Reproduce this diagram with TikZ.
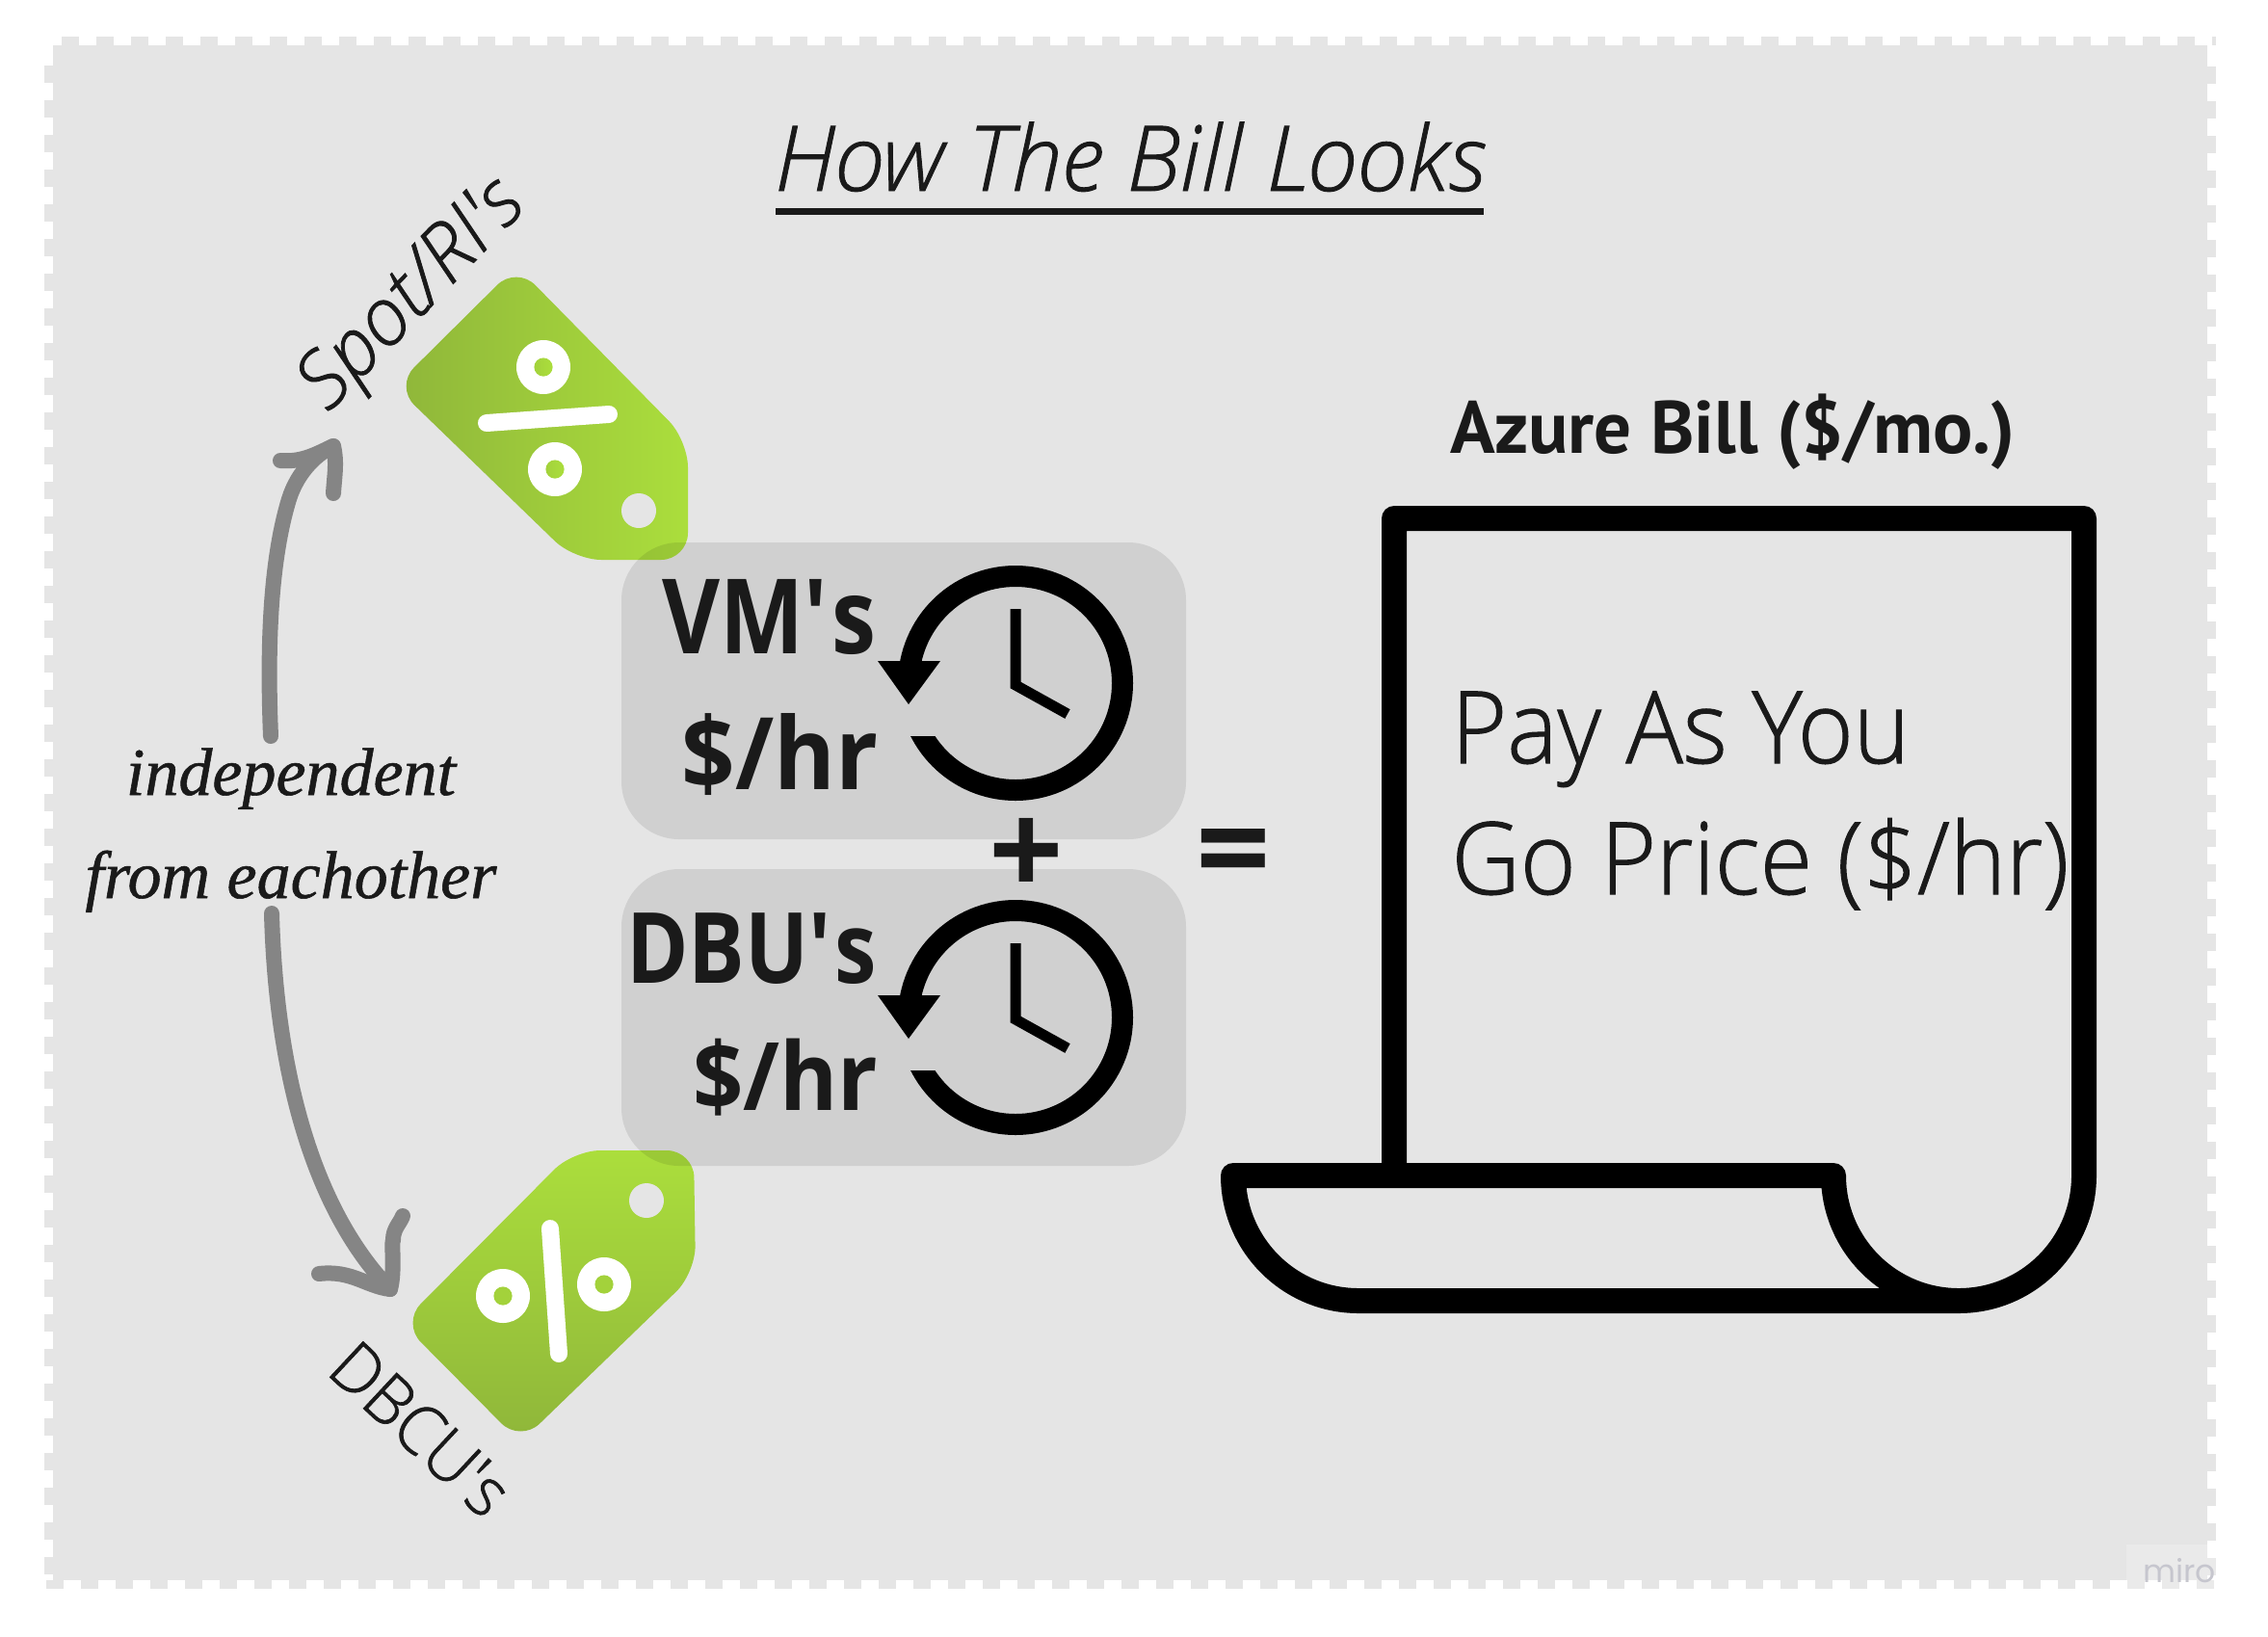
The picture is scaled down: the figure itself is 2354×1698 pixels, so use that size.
\documentclass[tikz,border=0pt]{standalone}
\usepackage{fontspec}
\setmainfont{Open Sans}
\newfontfamily\lightfont[FakeStretch=.95, FakeBold=1]{Open Sans Light}
\newfontfamily\slantfont[FakeBold=1]{Open Sans Light Italic}
\newfontfamily\namefont[FakeStretch=.855]{Open Sans}
\newfontfamily\ratefont[FakeStretch=.935]{Open Sans}
\newfontfamily\billfont{PT Sans}
\newfontfamily\handfont[ItalicFeatures={FakeBold=.8}]{Liberation Serif}
\newfontfamily\wmfont{Poppins}
\usetikzlibrary{positioning,calc}
\definecolor{bggray}{HTML}{E5E5E5}
\definecolor{inkgray}{HTML}{1A1A1A}
\definecolor{arrowgray}{HTML}{858585}
\definecolor{tagdark}{HTML}{8FB63A}
\definecolor{taglight}{HTML}{ABDE3C}
\definecolor{miroink}{HTML}{C6C6CE}
\tikzset{
    costbox/.style={fill=black, opacity=.09, rounded corners=30pt, minimum width=293pt, minimum height=154pt, inner sep=0pt},
    txtnode/.style={text=inkgray, inner sep=0pt},
    bolder/.style={txtnode, anchor=base east},
    curvearrow/.style={draw=arrowgray, line width=8pt, line cap=round, line join=round},
    clockline/.style={draw=black, line width=5.5pt},
    billline/.style={draw=black, line width=13pt, line join=round},
    taghole/.style={fill=bggray},
    rimdash/.style={draw=bggray, line width=4.5pt, dash pattern=on 9pt off 9pt},
}
\begin{document}
\begin{tikzpicture}[x=.5pt, y=-.5pt]
\useasboundingbox (0,0) rectangle (2354,1698);

% background with the dashed rim
\fill[bggray] (55,47) rectangle (2291,1640);
\draw[rimdash] (64,42.5)--(2300,42.5);
\draw[rimdash] (50.5,68)--(50.5,1649);
\draw[rimdash] (2295.5,69)--(2295.5,1649);
\draw[rimdash] (48,1644.5)--(2300,1644.5);

% title
\node[txtnode, anchor=base, font=\slantfont\fontsize{47}{47}\selectfont] (title) at (1173,198) {How The Bill Looks};
\coordinate (ruleL) at (805,219);
\coordinate (ruleR) at (1540,219);
\draw[inkgray, line width=3.5pt] (ruleL)--(ruleR);

% price tags
\shade[rounded corners=14pt, left color=tagdark, right color=taglight]
    (536,276)--(714,457)--(714,581)--(596,581)--(410,401)--cycle;
\foreach \cx/\cy in {564/381, 576/487} {
    \fill[white] (\cx,\cy) circle[radius=14pt];
    \shade[left color=tagdark!30!taglight, right color=taglight] (\cx,\cy) circle[radius=4.8pt];
}
\draw[white, line width=9pt, line cap=round] (505,439)--(632,430);
\fill[taghole] (663,530) circle[radius=9pt];

\shade[rounded corners=14pt, top color=taglight, bottom color=tagdark]
    (595,1194)--(720,1194)--(722,1321)--(540,1497)--(417,1373)--cycle;
\foreach \cx/\cy in {522/1345, 627/1333} {
    \fill[white] (\cx,\cy) circle[radius=14pt];
    \fill[taglight!70!tagdark] (\cx,\cy) circle[radius=4.8pt];
}
\draw[white, line width=9pt, line cap=round] (571,1275)--(580,1405);
\fill[taghole] (671,1246) circle[radius=9pt];

% boxes
\node[costbox] (vmBox) at (938,717) {};
\node[costbox] (dbuBox) at (938,1056) {};

% clocks
\foreach \dy in {0, 347} {
    \begin{scope}[yshift=-\dy*.5pt]
    \begin{scope}
    \clip (904,569)--(1204,569)--(1204,859)--(904,859)--(904,764)--(1054,764)--(1054,686)--(904,686)--cycle;
    \draw[clockline, line width=11pt] (1054,709) circle[radius=55.5pt];
    \end{scope}
    \fill[black] (911,686)--(976,686)--(943,731)--cycle;
    \draw[clockline, miter limit=4] (1054,632)--(1054,711)--(1108,741);
    \end{scope}
}

% costs
\node[bolder, font=\namefont\bfseries\fontsize{54}{54}\selectfont] (vmName) at (910,678) {VM\textquotesingle s};
\node[bolder, font=\ratefont\bfseries\fontsize{52}{52}\selectfont] (vmRate) at (912,819) {\$/hr};
\node[bolder, font=\namefont\bfseries\fontsize{51}{51}\selectfont] (dbuName) at (910,1020) {DBU\textquotesingle s};
\node[bolder, font=\ratefont\bfseries\fontsize{49}{49}\selectfont] (dbuRate) at (912,1152) {\$/hr};
\node[txtnode, font=\bfseries\fontsize{68}{68}\selectfont] (plusSign) at (1065,890) {+};
\node[txtnode, font=\bfseries\fontsize{68}{68}\selectfont] (equalSign) at (1280,894) {=};

% the bill
\draw[billline] (1447,1220)--(1447,538)--(2163,538)--(2163,1220)
    arc[start angle=0, end angle=-90, radius=65pt]--(1410,1350)
    arc[start angle=-90, end angle=-180, radius=65pt]--(1903,1220)
    arc[start angle=180, end angle=270, radius=65pt];
\node[txtnode, anchor=base west, font=\billfont\bfseries\fontsize{38.5}{38.5}\selectfont] (billHead) at (1505,470) {Azure Bill (\$/mo.)};
\node[txtnode, anchor=base west, font=\lightfont\fontsize{52}{52}\selectfont] (billPay) at (1506,792) {Pay As You};
\node[txtnode, anchor=base west, font=\lightfont\fontsize{52}{52}\selectfont] (billGo) at (1506,928) {Go Price (\$/hr)};

% the side labels
\node[txtnode, rotate=46, font=\slantfont\fontsize{41}{41}\selectfont] (spotLabel) at (430,308) {Spot/RI\textquotesingle s};
\node[txtnode, rotate=-43, font=\lightfont\fontsize{35.5}{35.5}\selectfont] (dbcuLabel) at (437,1483) {DBCU\textquotesingle s};
\node[txtnode, anchor=base, font=\handfont\itshape\fontsize{35}{35}\selectfont] (indepA) at (302,825) {independent};
\node[txtnode, anchor=base, font=\handfont\itshape\fontsize{35}{35}\selectfont] (indepB) at (302,932) {from eachother};

% hand drawn arrows
\coordinate (upStart) at (281,764);
\coordinate (upTip) at (346,463);
\coordinate (downStart) at (282,948);
\coordinate (downTip) at (405,1338);
\draw[curvearrow] (upStart) .. controls (278,690) and (278,590) .. (300,518) .. controls (309,489) and (330,470) .. (upTip);
\draw[curvearrow] (291,478) .. controls (315,480) and (330,470) .. (upTip)
    .. controls (350,480) and (347,495) .. (346,512);
\draw[curvearrow] (downStart) .. controls (286,1100) and (320,1250) .. (downTip);
\draw[curvearrow] (331,1322) .. controls (365,1318) and (380,1335) .. (downTip)
    .. controls (410,1320) and (406,1290) .. (408,1287) .. controls (408,1275) and (415,1270) .. (418,1262);

% watermark
\fill[white, opacity=.2] (2207,1603) rectangle (2300,1649);
\node[anchor=base east, inner sep=0pt, text=miroink, font=\wmfont\fontsize{16.5}{16.5}\selectfont] (miroMark) at (2300,1642) {miro};
\end{tikzpicture}
\end{document}
